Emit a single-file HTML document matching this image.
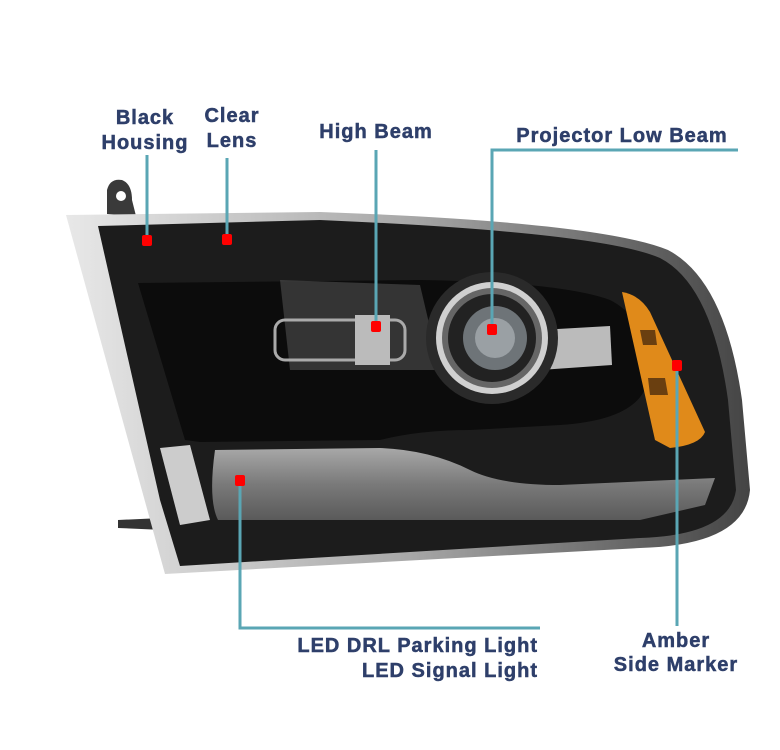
<!DOCTYPE html>
<html><head><style>
body{margin:0;background:#fff;width:780px;height:750px;overflow:hidden}
svg{display:block}
text{font-family:"Liberation Sans",sans-serif;font-weight:bold;font-size:20px;letter-spacing:1px;fill:#2e3f6a;stroke:#2e3f6a;stroke-width:0.5}
</style></head><body>
<svg width="780" height="750" viewBox="0 0 780 750">
<defs>
<linearGradient id="drl" x1="0" y1="0" x2="0" y2="1"><stop offset="0" stop-color="#a8a8a8"/><stop offset="0.5" stop-color="#7a7a7a"/><stop offset="1" stop-color="#5a5a5a"/></linearGradient>
<linearGradient id="chrome" x1="0" y1="0" x2="1" y2="0"><stop offset="0" stop-color="#e8e8e8"/><stop offset="0.5" stop-color="#a8a8a8"/><stop offset="1" stop-color="#444"/></linearGradient>
</defs>
<path d="M107,214 L107,190 Q110,178 122,180 Q132,184 132,200 L136,216 Z" fill="#3a3a3a"/>
<circle cx="121" cy="196" r="5" fill="#fff"/>
<path d="M118,520 L162,518 L164,530 L118,528 Z" fill="#333"/>
<path d="M66,215 L320,212 Q600,222 668,250 Q725,280 742,400 L750,490 Q745,545 640,548 L165,574 Z" fill="url(#chrome)"/>
<path d="M98,226 L320,220 Q600,232 660,258 Q712,285 728,400 L736,490 Q730,535 640,538 L180,566 L160,500 Z" fill="#1c1c1c"/>
<path d="M138,283 L420,280 Q560,282 610,300 Q650,320 648,380 Q640,420 560,425 L470,430 Q420,430 380,440 L200,442 L185,440 Z" fill="#0c0c0c"/>
<path d="M280,280 L420,285 L440,370 L290,370 Z" fill="#555" opacity="0.55"/>
<rect x="275" y="320" width="130" height="40" rx="10" fill="none" stroke="#aaa" stroke-width="3"/>
<rect x="355" y="315" width="35" height="50" fill="#bbb"/>
<path d="M540,330 L610,326 L612,365 L540,370 Z" fill="#bbb"/>
<circle cx="492" cy="338" r="66" fill="#2a2a2a"/>
<circle cx="492" cy="338" r="56" fill="#d0d0d0"/>
<circle cx="492" cy="338" r="50" fill="#666"/>
<circle cx="492" cy="338" r="44" fill="#222"/>
<circle cx="495" cy="338" r="32" fill="#6e7478"/>
<circle cx="495" cy="338" r="20" fill="#9aa0a4"/>
<path d="M622,292 Q640,295 650,312 L705,432 Q700,445 670,448 L655,440 Z" fill="#e08a1a"/>
<path d="M640,330 L655,330 L657,345 L643,345 Z M648,378 L665,378 L668,395 L650,395 Z" fill="#6a3f10"/>
<path d="M215,450 L380,448 Q430,450 470,470 Q500,485 560,485 L715,478 L705,505 L640,520 L218,520 Q208,500 215,450 Z" fill="url(#drl)"/>
<path d="M160,448 L190,445 L210,520 L180,525 Z" fill="#ccc"/>
<g stroke="#5aa6b4" stroke-width="3" fill="none">
<line x1="147" y1="155" x2="147" y2="240"/>
<line x1="227" y1="158" x2="227" y2="240"/>
<line x1="376" y1="150" x2="376" y2="326"/>
<polyline points="738,150 492,150 492,330"/>
<line x1="677" y1="365" x2="677" y2="626"/>
<polyline points="240,481 240,628 540,628"/>
</g>
<g fill="#f00">
<rect x="142" y="235" width="10" height="11" rx="2"/>
<rect x="222" y="234" width="10" height="11" rx="2"/>
<rect x="371" y="321" width="10" height="11" rx="2"/>
<rect x="487" y="324" width="10" height="11" rx="2"/>
<rect x="672" y="360" width="10" height="11" rx="2"/>
<rect x="235" y="475" width="10" height="11" rx="2"/>
</g>
<text x="145" y="124" text-anchor="middle">Black</text>
<text x="145" y="149" text-anchor="middle">Housing</text>
<text x="232" y="122" text-anchor="middle">Clear</text>
<text x="232" y="147" text-anchor="middle">Lens</text>
<text x="376" y="138" text-anchor="middle">High Beam</text>
<text x="622" y="142" text-anchor="middle">Projector Low Beam</text>
<text x="538" y="652" text-anchor="end">LED DRL Parking Light</text>
<text x="538" y="677" text-anchor="end">LED Signal Light</text>
<text x="676" y="647" text-anchor="middle">Amber</text>
<text x="676" y="671" text-anchor="middle">Side Marker</text>
</svg>
</body></html>
